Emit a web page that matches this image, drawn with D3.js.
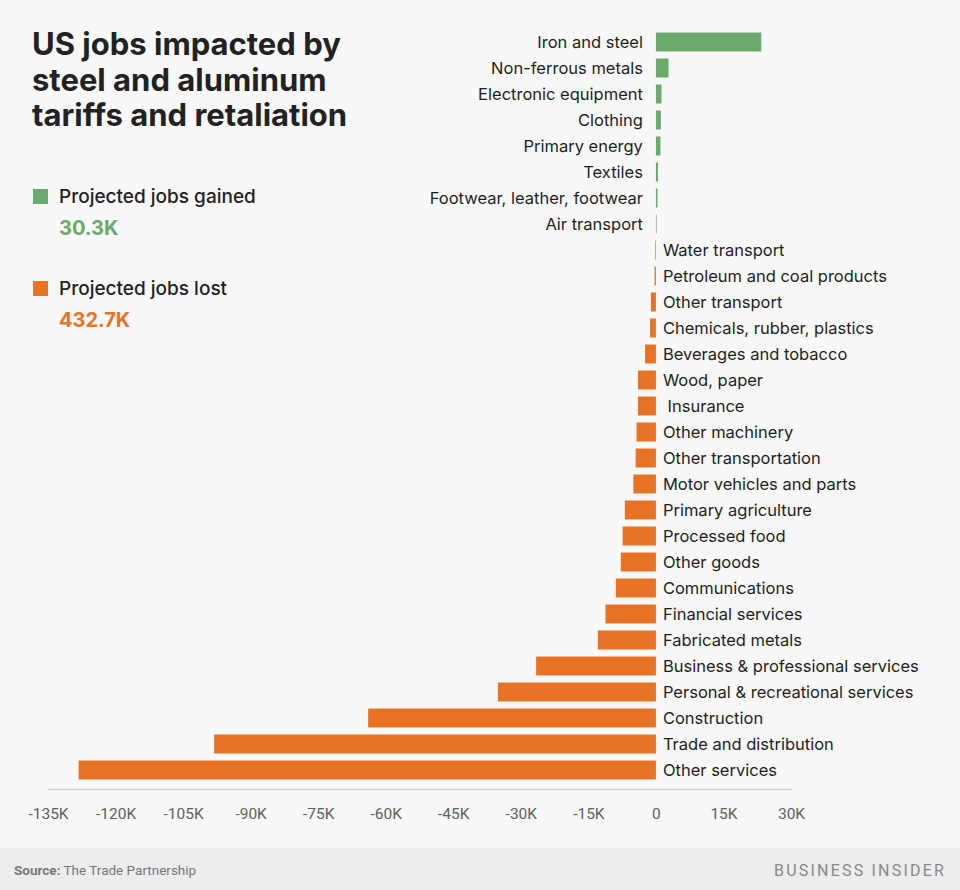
<!DOCTYPE html>
<html>
<head>
<meta charset="utf-8">
<script src="https://cdn.jsdelivr.net/npm/d3@7"></script>
<style>
  body { margin: 0; background: #f8f8f8; }
  svg { display: block; font-family: Inter, "Open Sans", sans-serif; }
</style>
</head>
<body>
<div id="chart"></div>
<script>
// sectors, top to bottom
const sectors = [
  "Iron and steel", "Non-ferrous metals", "Electronic equipment", "Clothing",
  "Primary energy", "Textiles", "Footwear, leather, footwear", "Air transport",
  "Water transport", "Petroleum and coal products", "Other transport",
  "Chemicals, rubber, plastics", "Beverages and tobacco", "Wood, paper",
  " Insurance", "Other machinery", "Other transportation", "Motor vehicles and parts",
  "Primary agriculture", "Processed food", "Other goods", "Communications",
  "Financial services", "Fabricated metals", "Business & professional services",
  "Personal & recreational services", "Construction", "Trade and distribution",
  "Other services"
];
// jobs, thousands
const jobs = [
  23.4, 2.8, 1.25, 1.1, 1.0, 0.45, 0.35, 0.15,
  -0.15, -0.3, -1.1, -1.3, -2.4, -4.0, -4.0, -4.3, -4.5, -5.0,
  -6.9, -7.4, -7.8, -8.9, -11.2, -12.9, -26.6, -35.1, -63.9, -98.1, -128.2
];
const xTicks = [-135, -120, -105, -90, -75, -60, -45, -30, -15, 0, 15, 30];
const totals = [
  { label: "Projected jobs gained", value: "30.3K", color: "#6aaa6d" },
  { label: "Projected jobs lost", value: "432.7K", color: "#e97325" }
];

const W = 960, H = 890;
const green = "#6aaa6d", orange = "#e97325";

const data = sectors.map((s, i) => ({ name: s, value: jobs[i] }));

const svg = d3.select("#chart").append("svg")
  .attr("width", W).attr("height", H);

svg.append("rect").attr("width", W).attr("height", H).attr("fill", "#f8f8f8");

const x = d3.scaleLinear().domain([-135, 30]).range([48, 791]);
const y = d3.scaleBand().domain(sectors).range([29, 783]).paddingInner(0.27).paddingOuter(0.135);

// bars
svg.append("g").selectAll("rect")
  .data(data)
  .join("rect")
  .attr("x", d => x(Math.min(0, d.value)))
  .attr("y", d => y(d.name))
  .attr("width", d => Math.abs(x(d.value) - x(0)))
  .attr("height", y.bandwidth())
  .attr("fill", d => d.value >= 0 ? green : orange);

// labels
svg.append("g").selectAll("text")
  .data(data)
  .join("text")
  .attr("x", d => d.value >= 0 ? x(0) - 13 : x(0) + 7)
  .attr("y", d => y(d.name) + y.bandwidth() / 2)
  .attr("dy", "0.36em")
  .attr("text-anchor", d => d.value >= 0 ? "end" : "start")
  .style("white-space", "pre")
  .attr("font-size", 16.5)
  .attr("fill", "#1e1e1e")
  .text(d => d.name);

// axis
const xaxis = d3.axisBottom(x)
  .tickValues(xTicks)
  .tickSize(0)
  .tickPadding(19)
  .tickFormat(d => d === 0 ? "0" : d + "K");

const ax = svg.append("g")
  .attr("class", "x-axis")
  .attr("transform", "translate(0,789)")
  .call(xaxis);
ax.select(".domain").attr("stroke", "#d0d0d0").attr("stroke-width", 1.5);
ax.selectAll("text")
  .attr("font-size", 15.5)
  .attr("font-family", "Roboto, sans-serif")
  .attr("fill", "#606060");

// title
const title = ["US jobs impacted by", "steel and aluminum", "tariffs and retaliation"];
svg.append("g").selectAll("text")
  .data(title)
  .join("text")
  .attr("x", 32)
  .attr("y", (d, i) => 55 + i * 35.5)
  .attr("font-size", 31)
  .attr("font-weight", 700)
  .attr("fill", "#222")
  .text(d => d);

// legend
const lg = svg.append("g").selectAll("g")
  .data(totals)
  .join("g")
  .attr("transform", (d, i) => `translate(33,${189 + i * 92})`);
lg.append("rect").attr("width", 15).attr("height", 15).attr("fill", d => d.color);
lg.append("text")
  .attr("x", 26).attr("y", 14)
  .attr("font-size", 19).attr("font-weight", 500).attr("fill", "#222")
  .text(d => d.label);
lg.append("text")
  .attr("x", 26).attr("y", 46)
  .attr("font-size", 20).attr("font-weight", 700).attr("fill", d => d.color)
  .text(d => d.value);

// footer
svg.append("rect").attr("x", 0).attr("y", 848).attr("width", W).attr("height", H - 848).attr("fill", "#ededed");
const src = svg.append("text").attr("x", 14).attr("y", 875)
  .attr("font-size", 13.5).attr("fill", "#777").attr("font-family", "Roboto, sans-serif");
src.append("tspan").attr("font-weight", 700).text("Source:");
src.append("tspan").text(" The Trade Partnership");
svg.append("text").attr("x", 946).attr("y", 876)
  .attr("text-anchor", "end")
  .attr("font-size", 16).attr("letter-spacing", 2.2)
  .attr("font-family", "Roboto, sans-serif")
  .attr("fill", "#888")
  .text("BUSINESS INSIDER");
</script>
</body>
</html>
